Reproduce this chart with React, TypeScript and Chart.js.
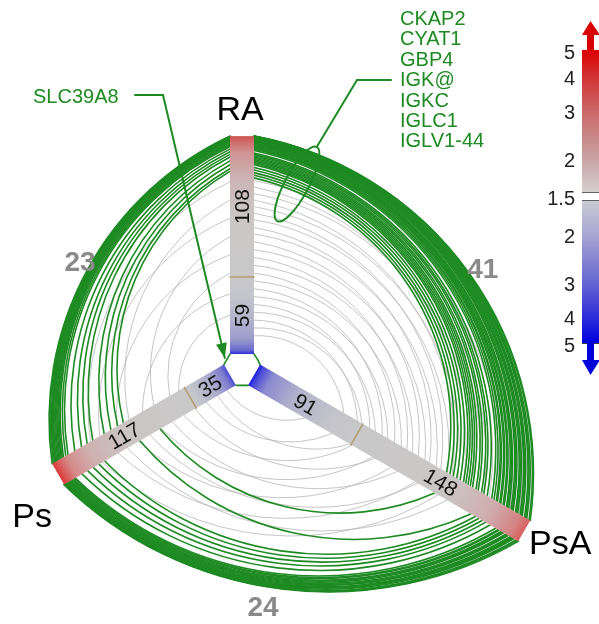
import { useEffect, useRef } from 'react';
import { Chart, registerables } from 'chart.js';

Chart.register(...registerables);

// ---------------- data ----------------
const axisNames = ['RA', 'Ps', 'PsA'];
const axisAngles = [90, 210, 330]; // degrees, hive axes
const upCounts = [108, 117, 148];
const downCounts = [59, 35, 91];
const pairAxes: [number, number][] = [[0, 1], [0, 2], [1, 2]];
const sharedCounts = [23, 41, 24]; // RA–Ps, RA–PsA, Ps–PsA

// edges: [rank on first axis, rank on second axis]; rank 0 = innermost (most down-regulated)
const greenRAPs: [number, number][] = [
  [0, 0],
  [167, 152], [167, 151], [166, 150], [166, 149], [165, 149], [165, 148], [164, 147], [164, 146],
  [163, 145], [163, 144], [162, 143], [161, 142], [160, 140], [159, 138],
  [157, 132], [155, 126], [153, 121], [151, 116],
  [148, 106], [145, 100], [142, 94], [140, 89],
];
const greenRAPsA: [number, number][] = [
  [0, 0],
  [167, 239], [167, 238], [167, 236], [166, 235], [166, 234], [166, 232], [165, 231], [165, 230],
  [165, 228], [164, 227], [164, 226], [164, 224], [163, 223], [163, 222], [162, 220], [162, 219],
  [161, 218], [161, 216], [160, 215], [160, 213], [159, 212], [158, 210], [158, 209], [157, 207],
  [156, 205],
  [154, 201], [153, 198], [152, 196], [151, 193], [150, 191], [149, 188], [148, 186], [147, 184],
  [146, 182], [145, 180],
  [143, 177], [141, 174], [139, 171], [137, 168], [135, 165],
];
const greenPsPsA: [number, number][] = [
  [0, 0],
  [152, 239], [152, 238], [151, 237], [151, 235], [150, 234], [150, 233], [149, 232], [149, 230],
  [148, 229], [147, 228], [147, 226], [146, 225], [145, 224], [144, 222], [143, 221], [142, 219],
  [136, 214], [131, 210], [126, 207], [121, 204], [116, 201],
  [85, 197], [67, 165],
];
const grayRAPs: [number, number][] = [
  [158, 146], [132, 118], [118, 84], [104, 110], [90, 62], [76, 95], [62, 48], [46, 72], [30, 40],
];
const grayRAPsA: [number, number][] = [
  [163, 229], [158, 216], [153, 221], [148, 203], [143, 209], [138, 192], [133, 198], [128, 180],
  [123, 188], [118, 170], [113, 175], [108, 160], [103, 166], [97, 150], [92, 156], [86, 140],
  [80, 146], [74, 130], [68, 135], [62, 119], [56, 125], [50, 108], [44, 113], [38, 97],
  [32, 102], [26, 86], [20, 90], [14, 74],
];
const grayPsPsA: [number, number][] = [
  [118, 168], [104, 148], [96, 176], [86, 126], [76, 150], [66, 110], [56, 132], [46, 92],
  [36, 112], [26, 74], [16, 90], [8, 50],
];
const greenEdges = [greenRAPs, greenRAPsA, greenPsPsA];
const grayEdges = [grayRAPs, grayRAPsA, grayPsPsA];

const calloutGenes = ['CKAP2', 'CYAT1', 'GBP4', 'IGK@', 'IGKC', 'IGLC1', 'IGLV1-44'];
const arrowGene = 'SLC39A8';

const colorbarTicks = [1.5, 2, 3, 4, 5];
const colorbarUpColors = ['#d6cfcf', '#c9a2a2', '#cb6666', '#d33232', '#dc0000'];
const colorbarDownColors = ['#cacad3', '#a6a6d3', '#6666d2', '#2e2ed9', '#0000e0'];

// ---------------- style ----------------
const W = 599;
const H = 624;
const FONT = '"Liberation Sans", Arial, Helvetica, sans-serif';
const GREEN = '#1d8a22';
const GRAY_EDGE = '#b2b2b2';
const PX_PER_UNIT = 1.305;
const CENTER_PX = [242, 368];
const INNER = 10.7;
const BAR_W = 24;
const CURV = [0.33, 0.4, 0.335];
const TICK_COLOR = '#b59c70';
// gradient stops per axis: [fraction within down segment (inner→tick), color], [fraction within up segment (tick→outer), color]
const downStops: [number, string][][] = [
  [[0, '#2a2ade'], [0.05, '#6a6ace'], [0.2, '#9c9ccc'], [0.45, '#b4b4cd'], [0.75, '#c4c4cc'], [1, '#c9c9cb']],
  [[0, '#4a4ad6'], [0.12, '#7c7ccf'], [0.4, '#a8a8ce'], [0.75, '#bebecd'], [1, '#c9c9cb']],
  [[0, '#1c1ce4'], [0.04, '#4a4ad8'], [0.14, '#8a8ad0'], [0.4, '#b2b2cc'], [0.75, '#c4c4ca'], [1, '#c8c8c9']],
];
const upStops: [number, string][][] = [
  [[0, '#c9c9c9'], [0.45, '#cbc6c6'], [0.7, '#ccb4b4'], [0.88, '#cf9494'], [1, '#d05454']],
  [[0, '#c9c9c9'], [0.5, '#cbc5c5'], [0.75, '#cfb0b0'], [0.9, '#d48a8a'], [1, '#de3a3a']],
  [[0, '#c8c8c8'], [0.55, '#cbc6c6'], [0.8, '#d0acac'], [0.94, '#d48484'], [1, '#d96060']],
];
const axisNameOffset = [[-2, -25], [-26, 43], [36, 14]];
const pairLabelPolar = [[147, 148], [22, 199], [275, 185]];

const rad = (d: number) => (d * Math.PI) / 180;
const TAU = Math.PI * 2;

const hivePlugin = {
  id: 'hive',
  afterDraw(chart: any) {
    const ctx: CanvasRenderingContext2D = chart.ctx;
    const xs = chart.scales.x;
    const ys = chart.scales.y;
    const P = (ux: number, uy: number) => ({ x: xs.getPixelForValue(ux), y: ys.getPixelForValue(uy) });
    const polarPx = (deg: number, r: number) => P(r * Math.cos(rad(deg)), r * Math.sin(rad(deg)));
    const ppu = Math.abs(xs.getPixelForValue(1) - xs.getPixelForValue(0));
    const dirS = (i: number) => ({ x: Math.cos(rad(axisAngles[i])), y: -Math.sin(rad(axisAngles[i])) });
    const half = BAR_W / 2;
    const sideToward = (i: number, j: number) => {
      const d = dirS(i), o = dirS(j);
      let p = { x: -d.y, y: d.x };
      if (p.x * o.x + p.y * o.y < 0) p = { x: -p.x, y: -p.y };
      return p;
    };
    const attach = (i: number, j: number, rank: number) => {
      const b = polarPx(axisAngles[i], INNER + rank);
      const p = sideToward(i, j);
      return { x: b.x + p.x * half, y: b.y + p.y * half };
    };
    const drawEdge = (k: number, ra: number, rb: number) => {
      const [i, j] = pairAxes[k];
      const A = attach(i, j, ra);
      const B = attach(j, i, rb);
      const dx = B.x - A.x, dy = B.y - A.y;
      const L = Math.hypot(dx, dy);
      if (L < 0.5) return;
      const h = L / 2;
      const s = CURV[k] * h * Math.min(1, L / 90);
      if (s < 0.3) {
        ctx.beginPath();
        ctx.moveTo(A.x, A.y);
        ctx.lineTo(B.x, B.y);
        ctx.stroke();
        return;
      }
      const ux = dx / L, uy = dy / L;
      const di = dirS(i), dj = dirS(j);
      const mx = di.x + dj.x, my = di.y + dj.y;
      let nx = -uy, ny = ux;
      if (nx * mx + ny * my < 0) { nx = -nx; ny = -ny; }
      const R = (h * h + s * s) / (2 * s);
      const cx = (A.x + B.x) / 2 - nx * (R - s);
      const cy = (A.y + B.y) / 2 - ny * (R - s);
      const a0 = Math.atan2(A.y - cy, A.x - cx);
      const a1 = Math.atan2(B.y - cy, B.x - cx);
      const am = Math.atan2(ny, nx);
      const norm = (a: number) => ((a % TAU) + TAU) % TAU;
      const cw = norm(am - a0) < norm(a1 - a0);
      ctx.beginPath();
      ctx.arc(cx, cy, R, a0, a1, !cw);
      ctx.stroke();
    };

    ctx.save();
    ctx.lineCap = 'round';
    // gray edges
    ctx.strokeStyle = GRAY_EDGE;
    ctx.lineWidth = 0.75;
    grayEdges.forEach((list, k) => list.forEach(([a, b]) => drawEdge(k, a, b)));
    // green edges
    ctx.strokeStyle = GREEN;
    ctx.lineWidth = 1.6;
    greenEdges.forEach((list, k) => list.forEach(([a, b]) => drawEdge(k, a, b)));

    // axis bars
    axisAngles.forEach((ang, i) => {
      const total = upCounts[i] + downCounts[i];
      const inner = polarPx(ang, INNER);
      const outer = polarPx(ang, INNER + total);
      const len = Math.hypot(outer.x - inner.x, outer.y - inner.y);
      const rot = Math.atan2(outer.y - inner.y, outer.x - inner.x);
      const fTick = downCounts[i] / total;
      ctx.save();
      ctx.translate(inner.x, inner.y);
      ctx.rotate(rot);
      const g = ctx.createLinearGradient(0, 0, len, 0);
      downStops[i].forEach(([f, c]) => g.addColorStop(f * fTick, c));
      upStops[i].forEach(([f, c]) => g.addColorStop(fTick + f * (1 - fTick), c));
      ctx.fillStyle = g;
      ctx.fillRect(0, -half, len, BAR_W);
      const tx = downCounts[i] * ppu;
      ctx.strokeStyle = TICK_COLOR;
      ctx.lineWidth = 1.5;
      ctx.beginPath();
      ctx.moveTo(tx, -half);
      ctx.lineTo(tx, half);
      ctx.stroke();
      ctx.restore();

      // counts on segments
      let trot = rot;
      if (Math.abs(Math.cos(rot)) < 1e-6) trot = -Math.PI / 2;
      else if (Math.cos(rot) < 0) trot = rot + Math.PI;
      const segs: [number, number][] = [
        [downCounts[i], downCounts[i] / 2],
        [upCounts[i], downCounts[i] + upCounts[i] / 2],
      ];
      segs.forEach(([n, pos]) => {
        const p = polarPx(ang, INNER + pos);
        ctx.save();
        ctx.translate(p.x, p.y);
        ctx.rotate(trot);
        ctx.fillStyle = '#111';
        ctx.font = `21px ${FONT}`;
        ctx.textAlign = 'center';
        ctx.textBaseline = 'middle';
        ctx.fillText(String(n), 0, 1);
        ctx.restore();
      });

      // axis name
      ctx.fillStyle = '#000';
      ctx.font = `34px ${FONT}`;
      ctx.textAlign = 'center';
      ctx.textBaseline = 'middle';
      ctx.fillText(axisNames[i], outer.x + axisNameOffset[i][0], outer.y + axisNameOffset[i][1]);
    });

    // shared counts
    ctx.fillStyle = '#8a8a8a';
    ctx.font = `bold 28px ${FONT}`;
    ctx.textAlign = 'center';
    ctx.textBaseline = 'middle';
    sharedCounts.forEach((n, k) => {
      const [deg, r] = pairLabelPolar[k];
      const p = polarPx(deg, r);
      ctx.fillText(String(n), p.x, p.y);
    });

    // annotation: SLC39A8 arrow
    ctx.strokeStyle = GREEN;
    ctx.fillStyle = GREEN;
    ctx.lineWidth = 2;
    ctx.font = `20px ${FONT}`;
    ctx.textAlign = 'left';
    ctx.textBaseline = 'alphabetic';
    ctx.fillText(arrowGene, 33, 103);
    const tip = polarPx(150, INNER + 4.5);
    const bend = { x: 163, y: 95 };
    ctx.beginPath();
    ctx.moveTo(135, 95);
    ctx.lineTo(bend.x, bend.y);
    ctx.lineTo(tip.x, tip.y);
    ctx.stroke();
    const ang = Math.atan2(tip.y - bend.y, tip.x - bend.x);
    ctx.save();
    ctx.translate(tip.x, tip.y);
    ctx.rotate(ang);
    ctx.beginPath();
    ctx.moveTo(0, 0);
    ctx.lineTo(-15, -5.5);
    ctx.lineTo(-15, 5.5);
    ctx.closePath();
    ctx.fill();
    ctx.restore();

    // annotation: gene group ellipse
    ctx.beginPath();
    ctx.ellipse(297, 184, 12, 42, rad(28), 0, TAU);
    ctx.stroke();
    const top = { x: 297 + 42 * Math.sin(rad(28)), y: 184 - 42 * Math.cos(rad(28)) };
    ctx.beginPath();
    ctx.moveTo(top.x, top.y);
    ctx.lineTo(357, 80);
    ctx.lineTo(391, 80);
    ctx.stroke();
    ctx.font = `20px ${FONT}`;
    calloutGenes.forEach((gname, idx) => ctx.fillText(gname, 400, 25 + idx * 20.4));
    ctx.restore();
  },
};

// colour bar geometry (log fold-change)
const CB_LN = Math.log(colorbarTicks[colorbarTicks.length - 1] / colorbarTicks[0]);
const CB_GAP = 0.038;
const cbPos = (fc: number, sign: number) => sign * (Math.log(fc / colorbarTicks[0]) + CB_GAP);
const cbTickList: { value: number; label: string }[] = [
  { value: 0, label: String(colorbarTicks[0]) },
  ...colorbarTicks.map((t) => ({ value: cbPos(t, 1), label: t === colorbarTicks[0] ? '' : String(t) })),
  ...colorbarTicks.map((t) => ({ value: cbPos(t, -1), label: t === colorbarTicks[0] ? '' : String(t) })),
];

const arrowPlugin = {
  id: 'cbArrows',
  afterDraw(chart: any) {
    const ctx: CanvasRenderingContext2D = chart.ctx;
    const { left, right, top, bottom } = chart.chartArea;
    const cx = (left + right) / 2;
    ctx.save();
    ctx.fillStyle = '#d80000';
    ctx.fillRect(cx - 3.5, top - 16, 7, 16);
    ctx.beginPath();
    ctx.moveTo(left, top - 15);
    ctx.lineTo(right + 1, top - 15);
    ctx.lineTo(cx, top - 29);
    ctx.closePath();
    ctx.fill();
    ctx.fillStyle = '#0000d8';
    ctx.fillRect(cx - 3.5, bottom, 7, 18);
    ctx.beginPath();
    ctx.moveTo(left, bottom + 17);
    ctx.lineTo(right + 1, bottom + 17);
    ctx.lineTo(cx, bottom + 32);
    ctx.closePath();
    ctx.fill();
    ctx.restore();
  },
};

const gradFor = (colors: string[], sign: number) => (c: any) => {
  const ch = c.chart;
  if (!ch.chartArea) return colors[0];
  const y = ch.scales.y;
  const y0 = y.getPixelForValue(cbPos(colorbarTicks[0], sign));
  const y1 = y.getPixelForValue(cbPos(colorbarTicks[colorbarTicks.length - 1], sign));
  const g = ch.ctx.createLinearGradient(0, y0, 0, y1);
  colorbarTicks.forEach((t, i) => g.addColorStop(Math.log(t / colorbarTicks[0]) / CB_LN, colors[i]));
  return g;
};

export default function App() {
  const hiveRef = useRef<HTMLCanvasElement>(null);
  const cbRef = useRef<HTMLCanvasElement>(null);

  useEffect(() => {
    if (!hiveRef.current || !cbRef.current) return;
    const hive = new Chart(hiveRef.current, {
      type: 'scatter',
      data: { datasets: [] },
      options: {
        animation: false,
        responsive: false,
        events: [],
        layout: { padding: 0 },
        plugins: { legend: { display: false }, tooltip: { enabled: false } },
        scales: {
          x: { type: 'linear', display: false, min: -CENTER_PX[0] / PX_PER_UNIT, max: (W - CENTER_PX[0]) / PX_PER_UNIT },
          y: { type: 'linear', display: false, min: -(H - CENTER_PX[1]) / PX_PER_UNIT, max: CENTER_PX[1] / PX_PER_UNIT },
        },
      },
      plugins: [hivePlugin],
    } as any);

    const cb = new Chart(cbRef.current, {
      type: 'bar',
      data: {
        labels: ['fold change'],
        datasets: [
          {
            data: [[cbPos(colorbarTicks[0], 1), cbPos(colorbarTicks[colorbarTicks.length - 1], 1)]],
            backgroundColor: gradFor(colorbarUpColors, 1),
            grouped: false,
            barPercentage: 1,
            categoryPercentage: 1,
            borderWidth: 0,
          },
          {
            data: [[cbPos(colorbarTicks[colorbarTicks.length - 1], -1), cbPos(colorbarTicks[0], -1)]],
            backgroundColor: gradFor(colorbarDownColors, -1),
            grouped: false,
            barPercentage: 1,
            categoryPercentage: 1,
            borderWidth: 0,
          },
        ],
      },
      options: {
        animation: false,
        responsive: false,
        events: [],
        layout: { padding: { top: 50, bottom: 57, left: 0, right: 0 } },
        plugins: { legend: { display: false }, tooltip: { enabled: false } },
        scales: {
          x: { type: 'category', display: false },
          y: {
            type: 'linear',
            position: 'left',
            min: -(CB_LN + CB_GAP),
            max: CB_LN + CB_GAP,
            z: 1,
            border: { display: false },
            grid: {
              drawTicks: false,
              lineWidth: 1,
              color: (c: any) => (c.tick && Math.abs(c.tick.value) < 1e-9 ? 'rgba(0,0,0,0)' : '#3c3c3c'),
            },
            afterBuildTicks: (s: any) => {
              s.ticks = cbTickList.map((t) => ({ value: t.value }));
            },
            afterFit: (s: any) => {
              s.width = 62;
            },
            ticks: {
              autoSkip: false,
              padding: 7,
              labelOffset: 3,
              color: '#222',
              font: { family: FONT, size: 20 },
              callback: (v: any) => {
                const f = cbTickList.find((t) => Math.abs(t.value - Number(v)) < 1e-6);
                return f ? f.label : '';
              },
            },
          },
        },
      },
      plugins: [arrowPlugin],
    } as any);

    return () => {
      hive.destroy();
      cb.destroy();
    };
  }, []);

  return (
    <div style={{ position: 'fixed', left: 0, top: 0, width: W, height: H, background: '#fff', overflow: 'hidden' }}>
      <canvas ref={hiveRef} width={W} height={H} style={{ position: 'absolute', left: 0, top: 0 }} />
      <canvas ref={cbRef} width={79} height={400} style={{ position: 'absolute', left: 520, top: 0 }} />
    </div>
  );
}
